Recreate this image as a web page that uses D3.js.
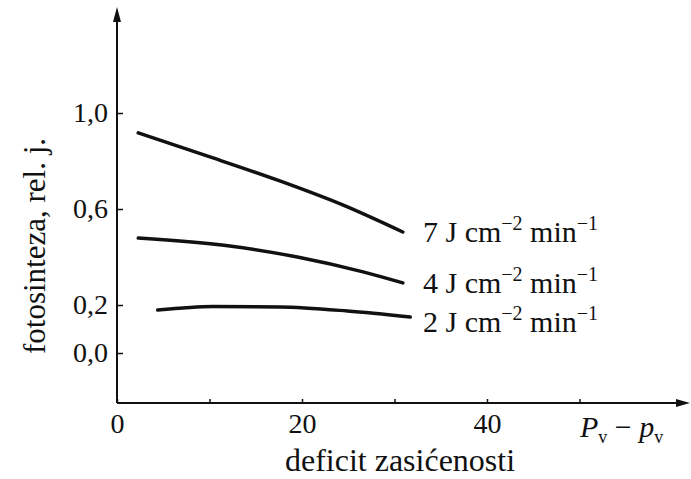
<!DOCTYPE html>
<html>
<head>
<meta charset="utf-8">
<script src="https://cdn.jsdelivr.net/npm/d3@7"></script>
<style>
  body { margin: 0; background: #fff; }
  svg { display: block; }
</style>
</head>
<body>
<script>
// curves (x = deficit, y = relative photosynthesis)
const curve7 = [[2.3, 0.917], [10.05, 0.817], [17.6, 0.717], [24.4, 0.617], [30.9, 0.504]]
const curve4 = [[2.3, 0.479], [12.2, 0.446], [19.5, 0.4], [26.6, 0.338], [30.9, 0.292]]
const curve2 = [[4.4, 0.179], [10.4, 0.194], [17.6, 0.192], [24.9, 0.175], [31.7, 0.15]]
const labels = ["7", "4", "2"]
const yTicks = [0, 0.2, 0.6, 1.0]
const xTicks = [0, 10, 20, 30, 40, 50]
const xLabelTicks = [0, 20, 40]

let width = 691
let height = 479
const serif = "Liberation Serif"   // a single family name, lists fall back to sans here

const svg = d3.select("body")
    .append("svg")
    .attr("width", width)
    .attr("height", height)

// scales: 0 -> 117 px, 10 units -> 92.5 px; 0.0 -> 353 px, 1.0 -> 113 px
const x = d3.scaleLinear().domain([0, 50]).range([117, 579.5])
const y = d3.scaleLinear().domain([0, 1]).range([353, 113])

const axisY = 403
const fmt = d => d3.format(".1f")(d).replace(".", ",")

// axes lines with arrows
svg.append("line")
    .attr("x1", x(0)).attr("y1", axisY)
    .attr("x2", 684).attr("y2", axisY)
    .attr("stroke", "#111").attr("stroke-width", 2)
svg.append("path")
    .attr("d", `M690,${axisY} L676,${axisY - 4} L676,${axisY + 4} Z`)
    .attr("fill", "#111")

svg.append("line")
    .attr("x1", x(0)).attr("y1", axisY)
    .attr("x2", x(0)).attr("y2", 16)
    .attr("stroke", "#111").attr("stroke-width", 2)
svg.append("path")
    .attr("d", `M${x(0)},7 L${x(0) - 4},22 L${x(0) + 4},22 Z`)
    .attr("fill", "#111")

// y axis ticks (pointing into the plot)
const gy = svg.append("g")
    .attr("transform", `translate(${x(0)},0)`)
    .call(d3.axisLeft(y).tickValues(yTicks).tickFormat(fmt).tickSize(-6).tickPadding(9))
gy.select(".domain").remove()
gy.selectAll("line").attr("stroke", "#111").attr("stroke-width", 1.5)
gy.selectAll("text")
    .attr("font-size", 28).attr("dy", "0.32em").attr("fill", "#111")
    .style("font-family", serif)

// x axis small upward ticks
const gx = svg.append("g")
    .attr("transform", `translate(0,${axisY})`)
    .call(d3.axisBottom(x).tickValues(xTicks)
        .tickFormat(d => xLabelTicks.includes(d) ? d : "")
        .tickSize(-4).tickPadding(10))
gx.select(".domain").remove()
gx.selectAll("line").attr("stroke", "#111").attr("stroke-width", 1.5)
gx.selectAll("text")
    .attr("font-size", 28).attr("fill", "#111")
    .style("font-family", serif)

// curves
const line = d3.line()
    .x(d => x(d[0]))
    .y(d => y(d[1]))
    .curve(d3.curveMonotoneX)

;[curve7, curve4, curve2].forEach((c, i) => {
  svg.append("path")
      .datum(c)
      .attr("d", line)
      .attr("fill", "none")
      .attr("stroke", "#111")
      .attr("stroke-width", 3.5)
      .attr("stroke-linecap", "round")

  let last = c[c.length - 1]
  let t = svg.append("text")
      .attr("x", 423)
      .attr("y", y(last[1]) + [10, 10, 15][i])
      .attr("font-size", 30)
      .attr("fill", "#111")
      .style("font-family", serif)
  t.append("tspan").text(labels[i] + " J cm")
  t.append("tspan").attr("dy", -12).attr("font-size", 20).text("\u22122")
  t.append("tspan").attr("dy", 12).text(" min")
  t.append("tspan").attr("dy", -12).attr("font-size", 20).text("\u22121")
})

// axis titles
svg.append("text")
    .attr("x", 400)
    .attr("y", 471)
    .attr("text-anchor", "middle")
    .attr("font-size", 32)
    .attr("fill", "#111")
    .style("font-family", serif)
    .text("deficit zasi\u0107enosti")

svg.append("text")
    .attr("transform", "translate(45,246) rotate(-90)")
    .attr("text-anchor", "middle")
    .attr("font-size", 31)
    .attr("fill", "#111")
    .style("font-family", serif)
    .text("fotosinteza, rel. j.")

const pv = svg.append("text")
    .attr("x", 580)
    .attr("y", 437)
    .attr("font-size", 30)
    .attr("fill", "#111")
    .style("font-family", serif)
pv.append("tspan").attr("font-style", "italic").text("P")
pv.append("tspan").attr("dy", 6).attr("font-size", 18).text("v")
pv.append("tspan").attr("dy", -6).text(" \u2212 ")
pv.append("tspan").attr("font-style", "italic").text("p")
pv.append("tspan").attr("dy", 6).attr("font-size", 18).text("v")
</script>
</body>
</html>
